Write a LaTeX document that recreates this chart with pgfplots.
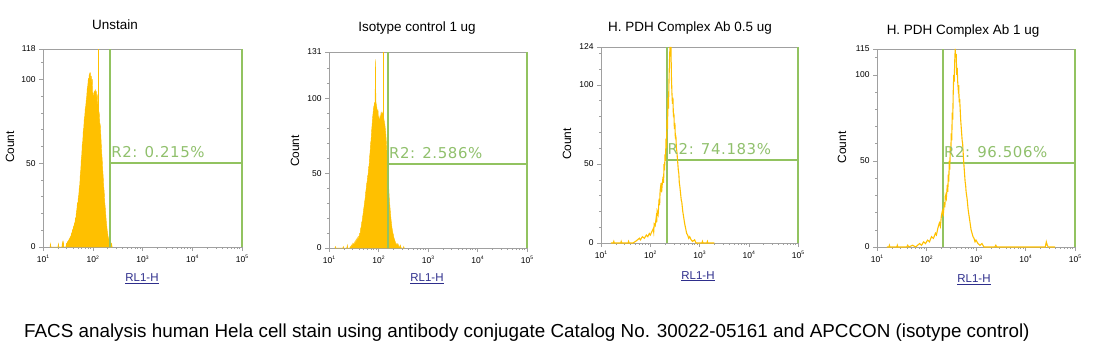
\documentclass[border=0pt]{standalone}
\usepackage{pgfplots}
\pgfplotsset{compat=1.18}
\usepackage{fontspec}
\setmainfont{Liberation Sans}
\newfontfamily\gatefont[LetterSpace=4]{DejaVu Sans}
\definecolor{orng}{HTML}{FFC000}
\definecolor{gate}{HTML}{92C360}
\definecolor{gatetxt}{HTML}{90C06C}
\definecolor{axgray}{HTML}{A0A0A0}
\definecolor{navy}{HTML}{2E2E8C}
\newcommand\tl[1]{10\raisebox{3.6bp}{\fontsize{5}{5}\selectfont #1}}
\pgfplotsset{facs/.style={
  scale only axis, anchor=south west, xmin=1, xmax=5, ymin=0, clip=false,
  axis line style={draw=axgray, line width=0.6bp},
  tick style={draw=axgray, line width=0.5bp},
  tick align=outside, major tick length=4bp, minor tick length=2bp,
  xtick pos=left, ytick pos=left,
  xtick={1,2,3,4,5}, xticklabels={\tl1,\tl2,\tl3,\tl4,\tl5},
  minor xtick={1.301,1.477,1.602,1.699,1.778,1.845,1.903,1.954,
               2.301,2.477,2.602,2.699,2.778,2.845,2.903,2.954,
               3.301,3.477,3.602,3.699,3.778,3.845,3.903,3.954,
               4.301,4.477,4.602,4.699,4.778,4.845,4.903,4.954},
  ticklabel style={font=\fontsize{8.5}{9}\selectfont},
  xticklabel style={font=\fontsize{8.5}{9}\selectfont, yshift=-1bp},
  /pgf/number format/assume math mode=true,
}}
\begin{document}
\begin{tikzpicture}[x=1bp,y=1bp]
\useasboundingbox (0,0) rectangle (1097,363);
% ---------- Panel 1
\begin{axis}[facs, at={(43bp,116bp)}, width=199bp, height=198bp, ymax=118,
  ytick={0,50,100,118}, minor ytick={10,20,30,40,60,70,80,90,110}]
\addplot[draw=orng, fill=orng, line width=0.4bp] coordinates {
(1.14,0)(1.15,2)(1.16,0)(1.30,0)(1.31,2)(1.32,0)(1.38,0)(1.39,3)(1.40,1)(1.41,3)(1.42,0)
(1.46,0)(1.47,2)(1.48,1)(1.49,3)(1.50,2)(1.51,4)(1.52,2)(1.53,5)(1.54,3)(1.55,6)(1.56,5)
(1.57,8)(1.58,7)(1.59,10)(1.60,9)(1.61,12)(1.62,11)(1.63,14)(1.64,13)(1.65,17)(1.66,16)
(1.67,21)(1.68,22)(1.69,26)(1.70,25)(1.71,30)(1.72,31)(1.73,36)(1.74,37)(1.75,44)(1.76,46)
(1.77,53)(1.78,55)(1.79,62)(1.80,63)(1.81,70)(1.82,71)(1.83,77)(1.84,78)(1.85,83)(1.86,84)
(1.87,88)(1.88,90)(1.89,95)(1.90,96)(1.91,100)(1.92,99)(1.93,103)(1.94,101)(1.95,104)
(1.96,99)(1.97,102)(1.98,97)(1.99,100)(1.995,96)(2.000,0)(2.005,92)(2.02,88)(2.03,93)
(2.04,89)(2.05,94)(2.06,90)(2.07,93)(2.08,88)(2.09,91)(2.10,84)(2.11,86)(2.12,79)(2.13,80)
(2.14,74)(2.15,73)(2.16,68)(2.17,62)(2.18,56)(2.19,52)(2.20,46)(2.21,42)(2.22,36)(2.23,33)
(2.24,27)(2.25,24)(2.26,20)(2.27,16)(2.28,13)(2.29,10)(2.30,8)(2.31,6)(2.32,5)(2.33,3)
(2.34,4)(2.35,2)(2.36,3)(2.37,1)(2.38,2)(2.39,0)} \closedcycle;
\addplot[draw=orng, line width=0.5bp] coordinates {(2.11,0)(2.11,118)};
\addplot[gate, line width=2bp] coordinates {(2.35,0)(2.35,118)};
\addplot[gate, line width=2bp] coordinates {(2.35,50)(5,50)};
\addplot[gate, line width=2.5bp] coordinates {(5,0)(5,118)};
\node[anchor=base west, inner sep=0, text=gatetxt, font=\gatefont\fontsize{15}{15}\selectfont]
  at (axis cs:2.37,50) [yshift=5.5bp] {R2: 0.215\%};
\end{axis}
% ---------- Panel 2
\begin{axis}[facs, at={(329bp,115bp)}, width=198bp, height=196bp, ymax=131,
  ytick={0,50,100,131}, minor ytick={10,20,30,40,60,70,80,90,110,120}]
\addplot[draw=orng, fill=orng, line width=0.4bp] coordinates {
(1.12,0)(1.13,1)(1.14,0)(1.28,0)(1.29,1)(1.30,0)(1.36,0)(1.37,2)(1.38,0)(1.42,0)(1.43,1)
(1.44,0)(1.45,1)(1.46,2)(1.47,1)(1.48,3)(1.49,2)(1.50,3)(1.51,2)(1.52,4)(1.53,3)(1.54,5)
(1.55,4)(1.56,6)(1.57,5)(1.58,7)(1.59,6)(1.60,8)(1.61,8)(1.62,10)(1.63,10)(1.64,13)(1.65,14)
(1.66,17)(1.67,18)(1.68,21)(1.69,23)(1.70,26)(1.71,28)(1.72,31)(1.73,33)(1.74,37)(1.75,39)
(1.76,43)(1.77,44)(1.78,48)(1.79,49)(1.80,54)(1.81,55)(1.82,61)(1.83,64)(1.84,70)(1.85,72)
(1.86,78)(1.87,82)(1.88,87)(1.89,90)(1.90,94)(1.91,95)(1.92,97)(1.93,96)(1.935,112)(1.94,126)
(1.945,104)(1.95,97)(1.96,95)(1.97,93)(1.98,91)(1.99,92)(1.995,89)(2.000,0)(2.005,87)
(2.02,85)(2.03,88)(2.04,86)(2.05,90)(2.06,88)(2.07,91)(2.08,89)(2.09,90)(2.10,88)(2.11,86)
(2.12,84)(2.13,82)(2.14,79)(2.15,75)(2.16,70)(2.17,63)(2.18,56)(2.19,50)(2.20,44)(2.21,38)
(2.22,32)(2.23,28)(2.24,24)(2.25,20)(2.26,17)(2.27,14)(2.28,12)(2.29,10)(2.30,9)(2.31,7)
(2.32,6)(2.33,5)(2.34,4)(2.35,3)(2.36,3)(2.37,2)(2.38,2)(2.39,3)(2.40,2)(2.41,1)(2.43,1)
(2.44,2)(2.45,1)(2.46,0)(2.50,0)(2.51,1)(2.52,0)} \closedcycle;
\addplot[draw=orng, line width=0.5bp] coordinates {(2.10,0)(2.10,131)};
\addplot[gate, line width=2bp] coordinates {(2.19,0)(2.19,131)};
\addplot[gate, line width=2bp] coordinates {(2.19,56)(5,56)};
\addplot[gate, line width=2.5bp] coordinates {(5,0)(5,131)};
\node[anchor=base west, inner sep=0, text=gatetxt, font=\gatefont\fontsize{15}{15}\selectfont]
  at (axis cs:2.21,56) [yshift=5.5bp] {R2: 2.586\%};
\end{axis}
% ---------- Panel 3
\begin{axis}[facs, at={(601bp,120bp)}, width=197bp, height=196bp, ymax=124,
  ytick={0,50,100,124}, minor ytick={10,20,30,40,60,70,80,90,110,120}]
\addplot[gate, line width=2bp] coordinates {(2.33,0)(2.33,124)};
\addplot[gate, line width=2bp] coordinates {(2.33,52.5)(5,52.5)};
\addplot[gate, line width=2.5bp] coordinates {(5,0)(5,124)};
\addplot[draw=orng, line width=1.1bp] coordinates {
(1.20,0)(1.25,0)(1.26,1)(1.27,0)(1.40,0)(1.41,1)(1.42,0)(1.55,0)(1.56,1)(1.57,0)(1.65,0)
(1.70,1)(1.74,2)(1.78,3)(1.80,2)(1.84,4)(1.88,3)(1.92,5)(1.95,4)(1.98,6)(2.00,5)(2.03,7)
(2.06,9)(2.07,7)(2.08,12)(2.10,11)(2.12,16)(2.13,13)(2.14,20)(2.16,18)(2.18,28)(2.19,24)(2.20,33)(2.22,38)(2.23,32)
(2.24,36)(2.26,42)(2.27,38)(2.28,50)(2.29,46)(2.30,56)(2.31,52)(2.32,66)(2.33,60)(2.34,78)(2.35,72)(2.36,92)(2.37,85)(2.38,102)(2.39,115)
(2.40,124)(2.41,118)(2.42,124)(2.43,105)(2.44,95)(2.45,88)(2.46,92)(2.47,80)(2.48,82)(2.49,72)
(2.50,76)(2.51,66)(2.52,68)(2.53,60)(2.54,58)(2.55,54)(2.56,50)(2.57,46)(2.58,44)(2.59,38)(2.60,36)(2.62,30)(2.63,27)(2.64,26)(2.66,20)(2.68,16)
(2.70,12)(2.72,9)(2.74,6)(2.76,5)(2.78,3)(2.80,4)(2.83,2)(2.86,1)(2.90,2)(2.93,0)(3.05,0)
(3.06,1)(3.07,0)(3.15,0)(3.16,1)(3.17,0)(3.30,0)};
\node[anchor=base west, inner sep=0, text=gatetxt, font=\gatefont\fontsize{15}{15}\selectfont]
  at (axis cs:2.35,52.5) [yshift=5.5bp] {R2: 74.183\%};
\end{axis}
% ---------- Panel 4
\begin{axis}[facs, at={(877bp,116bp)}, width=198bp, height=198bp, ymax=115,
  ytick={0,50,100,115}, minor ytick={10,20,30,40,60,70,80,90,110}]
\addplot[gate, line width=2bp] coordinates {(2.33,0)(2.33,115)};
\addplot[gate, line width=2bp] coordinates {(2.33,49)(5,49)};
\addplot[gate, line width=2.5bp] coordinates {(5,0)(5,115)};
\addplot[draw=orng, line width=1.1bp] coordinates {
(1.20,0)(1.24,0)(1.25,1)(1.26,0)(1.40,0)(1.41,1)(1.42,0)(1.60,0)(1.62,1)(1.64,0)(1.72,1)
(1.78,0)(1.82,1)(1.86,2)(1.90,1)(1.94,3)(1.98,2)(2.02,4)(2.06,3)(2.10,6)(2.14,5)(2.18,8)
(2.20,7)(2.23,11)(2.26,14)(2.28,12)(2.30,18)(2.32,21)(2.34,19)(2.36,26)(2.37,23)(2.38,30)(2.40,28)
(2.42,36)(2.43,32)(2.44,42)(2.45,38)(2.46,50)(2.47,45)(2.48,58)(2.49,54)(2.50,66)(2.51,62)(2.52,78)(2.53,74)(2.54,90)(2.55,100)(2.56,96)
(2.57,108)(2.58,115)(2.59,110)(2.60,112)(2.61,100)(2.62,104)(2.63,96)(2.64,92)(2.65,94)(2.66,84)(2.67,86)
(2.68,80)(2.69,74)(2.70,70)(2.71,66)(2.72,62)(2.73,60)(2.74,55)(2.75,50)(2.76,46)(2.77,42)(2.78,38)(2.79,36)(2.80,32)(2.82,28)(2.84,22)(2.86,18)
(2.88,14)(2.90,10)(2.92,8)(2.94,6)(2.96,5)(2.98,3)(3.00,4)(3.04,2)(3.08,1)(3.12,2)(3.16,0)
(3.38,0)(3.40,1)(3.42,0)(4.40,0)(4.42,3)(4.44,1)(4.46,0)(4.60,0)};
\node[anchor=base west, inner sep=0, text=gatetxt, font=\gatefont\fontsize{15}{15}\selectfont]
  at (axis cs:2.35,49) [yshift=5.5bp] {R2: 96.506\%};
\end{axis}
% ---------- Titles and labels
\begin{scope}[every node/.style={font=\fontsize{13.5}{16}\selectfont, anchor=base}]
\node at (115,333.7) {Unstain};
\node at (417,332) {Isotype control 1 ug};
\node at (690,332) {H. PDH Complex Ab 0.5 ug};
\node at (963,328.7) {H. PDH Complex Ab 1 ug};
\end{scope}
\begin{scope}[every node/.style={font=\fontsize{11.5}{13}\selectfont, anchor=base, text=navy}]
\node at (142,81.3) {\underline{RL1-H}};
\node at (427,81.5) {\underline{RL1-H}};
\node at (698,83.7) {\underline{RL1-H}};
\node at (974,80.3) {\underline{RL1-H}};
\end{scope}
\begin{scope}[every node/.style={font=\fontsize{12}{14}\selectfont, anchor=center, rotate=90}]
\node at (10,216) {Count};
\node at (295,212) {Count};
\node at (567,219) {Count};
\node at (842,215.5) {Count};
\end{scope}
\node[anchor=base west, inner sep=0, font=\fontsize{18.9}{20}\selectfont] at (24,26)
  {FACS analysis human Hela cell stain using antibody conjugate Catalog No. 30022-05161 and APCCON (isotype control)};
\end{tikzpicture}
\end{document}
